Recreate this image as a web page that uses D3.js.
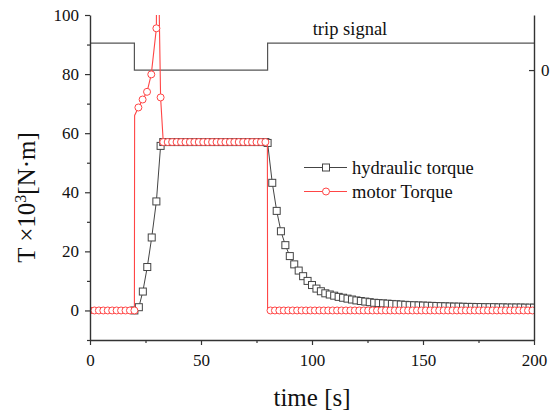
<!DOCTYPE html>
<html><head><meta charset="utf-8">
<script src="https://cdn.jsdelivr.net/npm/d3@7"></script>
<style>body{margin:0;background:#fff}svg{display:block}text{font-family:"Liberation Serif","Times New Roman",serif;fill:#111}</style>
</head><body><svg id="c" width="551" height="414"></svg>
<script>
const xTicks = [0, 50, 100, 150, 200];
const xMinorTicks = [25, 75, 125, 175];
const yTicks = [0, 20, 40, 60, 80, 100];
const yMinorTicks = [-10, 10, 30, 50, 70, 90];
const rightTicks = [0];

const tripTime = [0, 20, 20, 80, 80, 200];
const tripSignal = [1, 1, 0, 0, 1, 1];

const hydTime = [20, 22, 23.8, 25.8, 27.8, 29.9, 31.8, 33, 35, 37, 39, 41, 43, 45, 47, 49, 51, 53, 55, 57, 59, 61, 63, 65, 67, 69, 71, 73, 75, 77, 79, 80,
  82.1, 84.1, 86, 88, 90, 92, 94, 96, 98, 100, 102, 104, 106, 108, 110, 112, 114, 116, 118, 120, 122, 124, 126, 128, 130,
  132, 134, 136, 138, 140, 142, 144, 146, 148, 150, 152, 154, 156, 158, 160, 162, 164, 166, 168, 170,
  172, 174, 176, 178, 180, 182, 184, 186, 188, 190, 192, 194, 196, 198, 200];
const hydTorque = [0, 1.1, 6.4, 14.7, 24.7, 36.9, 55.7, 57, 57, 57, 57, 57, 57, 57, 57, 57, 57, 57, 57, 57, 57, 57, 57, 57, 57, 57, 57, 57, 57, 57, 57, 56.7,
  43.2, 33.7, 26.8, 22.1, 18.4, 15.6, 13.5, 11.6, 10.0, 8.6, 7.4, 6.5, 5.8, 5.4, 5.0, 4.6, 4.3, 4.0, 3.7, 3.4, 3.2, 3.0, 2.8, 2.6, 2.5,
  2.4, 2.3, 2.2, 2.1, 2.0, 1.9, 1.8, 1.75, 1.7, 1.65, 1.6, 1.55, 1.5, 1.45, 1.4, 1.35, 1.3, 1.3, 1.25, 1.2,
  1.2, 1.15, 1.15, 1.1, 1.1, 1.1, 1.05, 1.05, 1.0, 1.0, 1.0, 1.0, 0.95, 0.95, 0.95];

const motorTime = [0, 2, 4, 6, 8, 10, 12, 14, 16, 18, 20, 20.1, 21.8, 23.7, 25.7, 27.6, 29.9, 30.6, 31.1, 31.8,
  33, 35, 37, 39, 41, 43, 45, 47, 49, 51, 53, 55, 57, 59, 61, 63, 65, 67, 69, 71, 73, 75, 77, 79, 79.9, 80,
  81.3, 83.3, 85.3, 87.3, 89.3, 91.3, 93.3, 95.3, 97.3, 99.3, 101.3, 103.3, 105.3, 107.3, 109.3, 111.3, 113.3, 115.3, 117.3, 119.3,
  121.3, 123.3, 125.3, 127.3, 129.3, 131.3, 133.3, 135.3, 137.3, 139.3, 141.3, 143.3, 145.3, 147.3, 149.3, 151.3, 153.3, 155.3, 157.3, 159.3,
  161.3, 163.3, 165.3, 167.3, 169.3, 171.3, 173.3, 175.3, 177.3, 179.3, 181.3, 183.3, 185.3, 187.3, 189.3, 191.3, 193.3, 195.3, 197.3, 199.3];
const motorTorque = [0, 0, 0, 0, 0, 0, 0, 0, 0, 0, 0, 66, 68.7, 71.4, 74, 79.9, 95.5, 250, 105, 72.1,
  57, 57, 57, 57, 57, 57, 57, 57, 57, 57, 57, 57, 57, 57, 57, 57, 57, 57, 57, 57, 57, 57, 57, 57, 57, 0,
  0, 0, 0, 0, 0, 0, 0, 0, 0, 0, 0, 0, 0, 0, 0, 0, 0, 0, 0, 0,
  0, 0, 0, 0, 0, 0, 0, 0, 0, 0, 0, 0, 0, 0, 0, 0, 0, 0, 0, 0,
  0, 0, 0, 0, 0, 0, 0, 0, 0, 0, 0, 0, 0, 0, 0, 0, 0, 0, 0, 0];
const motorNoMarker = [20.1, 30.6, 31.1, 79.9, 80];

const seriesNames = ["hydraulic torque", "motor Torque"];

const W = 551, H = 414;
const L = 90, R = 534, T = 15, B = 340;
const serif = '"Liberation Serif", "Times New Roman", serif';
const svg = d3.select("#c");
svg.append("rect").attr("width", W).attr("height", H).attr("fill", "#fff");

const x = d3.scaleLinear().domain([0, 200]).range([L, R]);
const y = d3.scaleLinear().domain([-10, 100]).range([B, T]);
const y2 = d3.scaleLinear().domain([-10, 2.04]).range([B, T]);

svg.append("defs").append("clipPath").attr("id", "clip")
  .append("rect").attr("x", L).attr("y", T).attr("width", R - L).attr("height", B - T);
const plot = svg.append("g").attr("clip-path", "url(#clip)");

const gray = "#444", red = "#ff4545";

// trip signal
const tripData = tripTime.map((t, i) => [t, tripSignal[i]]);
plot.append("path").datum(tripData)
  .attr("d", d3.line().x(d => x(d[0])).y(d => y2(d[1])))
  .attr("fill", "none").attr("stroke", "#555").attr("stroke-width", 1.2);

// hydraulic
const hyd = hydTime.map((t, i) => [t, hydTorque[i]]);
plot.append("path").datum(hyd)
  .attr("d", d3.line().x(d => x(d[0])).y(d => y(d[1])))
  .attr("fill", "none").attr("stroke", gray).attr("stroke-width", 1);
const sq = 7;
plot.selectAll("rect.h").data(hyd).enter().append("rect").attr("class", "h")
  .attr("x", d => x(d[0]) - sq / 2).attr("y", d => y(d[1]) - sq / 2)
  .attr("width", sq).attr("height", sq)
  .attr("fill", "#fff").attr("stroke", gray).attr("stroke-width", 1);

// motor
const mot = motorTime.map((t, i) => [t, motorTorque[i]]);
plot.append("path").datum(mot)
  .attr("d", d3.line().x(d => x(d[0])).y(d => y(d[1])))
  .attr("fill", "none").attr("stroke", red).attr("stroke-width", 1.1);
plot.selectAll("circle.m").data(mot.filter(d => !motorNoMarker.includes(d[0]))).enter()
  .append("circle").attr("class", "m")
  .attr("cx", d => x(d[0])).attr("cy", d => y(d[1])).attr("r", 3.5)
  .attr("fill", "#fff").attr("stroke", red).attr("stroke-width", 1);

// axes
const axCol = "#333";
function styleAxis(g) {
  g.attr("font-family", serif).attr("font-size", 17);
  g.selectAll("path.domain").attr("stroke", axCol).attr("stroke-width", 1.4);
  g.selectAll(".tick line").attr("stroke", axCol).attr("stroke-width", 1.2);
  g.selectAll("text").attr("font-family", serif).style("font-family", serif).style("font-size", "17px").attr("fill", "#111");
}
const gx = svg.append("g").attr("transform", `translate(0,${B})`)
  .call(d3.axisBottom(x).tickValues(xTicks).tickSizeInner(5).tickSizeOuter(0).tickPadding(9).tickFormat(d3.format("d")));
styleAxis(gx);
const gxm = svg.append("g").attr("transform", `translate(0,${B})`)
  .call(d3.axisBottom(x).tickValues(xMinorTicks).tickSizeInner(3).tickSizeOuter(0).tickFormat(""));
gxm.select("path.domain").remove(); styleAxis(gxm);

const gy = svg.append("g").attr("transform", `translate(${L},0)`)
  .call(d3.axisLeft(y).tickValues(yTicks).tickSizeInner(5).tickSizeOuter(0).tickPadding(6).tickFormat(d3.format("d")));
styleAxis(gy);
const gym = svg.append("g").attr("transform", `translate(${L},0)`)
  .call(d3.axisLeft(y).tickValues(yMinorTicks).tickSizeInner(3).tickSizeOuter(0).tickFormat(""));
gym.select("path.domain").remove(); styleAxis(gym);

const gr = svg.append("g").attr("transform", `translate(${R},0)`)
  .call(d3.axisRight(y2).tickValues(rightTicks).tickSizeInner(-5).tickSizeOuter(0).tickPadding(7).tickFormat(d3.format("d")));
styleAxis(gr);

// titles
svg.append("text").attr("x", (L + R) / 2).attr("y", 406).attr("text-anchor", "middle")
  .style("font-size", "25px").text("time [s]");
const yt = svg.append("text").attr("transform", `translate(35,${(T + B) / 2 + 20}) rotate(-90)`)
  .attr("text-anchor", "middle").style("font-size", "25px");
yt.append("tspan").text("T \u00d710");
yt.append("tspan").attr("dy", -9).style("font-size", "16px").text("3");
yt.append("tspan").attr("dy", 9).text("[N\u00b7m]");

svg.append("text").attr("x", 350).attr("y", 35).attr("text-anchor", "middle")
  .style("font-size", "18.5px").text("trip signal");

// legend
const lg = svg.append("g");
[[gray, "rect"], [red, "circle"]].forEach((s, i) => {
  const ly = 167.5 + i * 24;
  lg.append("line").attr("x1", 304).attr("x2", 347).attr("y1", ly).attr("y2", ly)
    .attr("stroke", s[0]).attr("stroke-width", 1);
  if (s[1] === "rect") lg.append("rect").attr("x", 326 - sq / 2).attr("y", ly - sq / 2).attr("width", sq).attr("height", sq)
    .attr("fill", "#fff").attr("stroke", s[0]);
  else lg.append("circle").attr("cx", 326).attr("cy", ly).attr("r", 3.5).attr("fill", "#fff").attr("stroke", s[0]);
  lg.append("text").attr("x", 352).attr("y", ly + 6).style("font-size", "18.5px").text(seriesNames[i]);
});
</script></body></html>
